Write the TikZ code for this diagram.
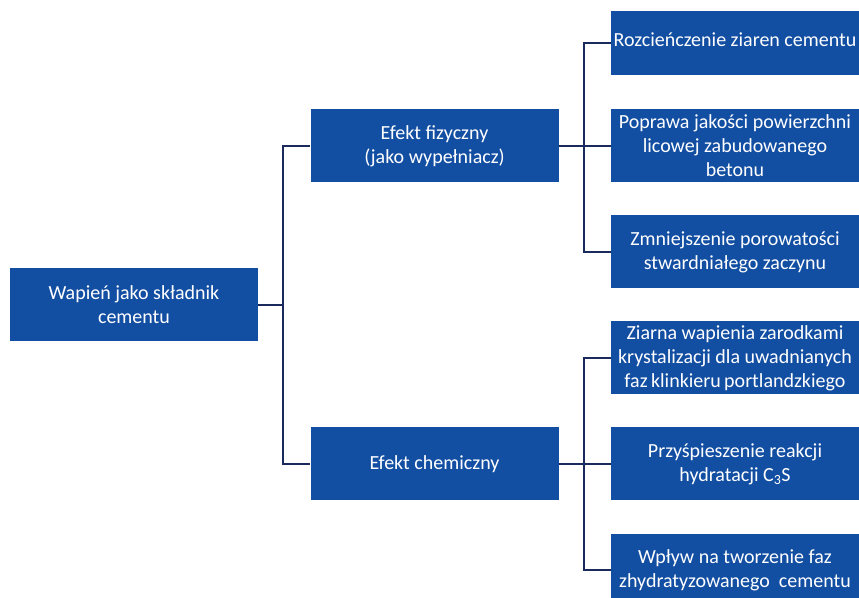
\documentclass[tikz,border=0pt]{standalone}
\usepackage{fontspec}
\setmainfont{Carlito}
\definecolor{boxblue}{RGB}{18,78,162}
\definecolor{linenavy}{RGB}{26,42,92}

\begin{document}
\begin{tikzpicture}
  [grow'=right, level distance = 300.5pt,
   every node/.style={fill=boxblue, text=white, align=center, inner sep=0pt,
                      minimum width=248pt, minimum height=73pt,
                      font=\fontsize{20}{24}\selectfont},
   edge from parent/.style={draw=linenavy, line width=1.6pt},
   edge from parent path={(\tikzparentnode.east) -- ++(25pt,0) |- (\tikzchildnode.west)},
   level 1/.style={sibling distance = 318pt},
   level 2/.style={sibling distance = 106pt}]
  \useasboundingbox (0,0) rectangle (859pt,597pt);
  \node (root) at (134pt,292pt) {Wapień jako składnik\\cementu}
     child {node (fiz) {Efekt fizyczny\\(jako wypełniacz)}
        child {node (fiz1) [minimum height=64pt, text depth=7pt, yshift=-3pt] {Rozcieńczenie ziaren cementu}}
        child {node (fiz2) {Poprawa jakości powierzchni\\licowej zabudowanego\\betonu}}
        child {node (fiz3) {Zmniejszenie porowatości\\stwardniałego zaczynu}}
     }
     child {node (chem) {Efekt chemiczny}
        child {node (chem1) {Ziarna wapienia zarodkami\\krystalizacji dla uwadnianych\\faz\,klinkieru\,portlandzkiego}}
        child {node (chem2) {Przyśpieszenie reakcji\\hydratacji C\textsubscript{3}S}}
        child {node (chem3) {Wpływ na tworzenie faz\\zhydratyzowanego~~cementu}}
     };
\end{tikzpicture}
\end{document}
